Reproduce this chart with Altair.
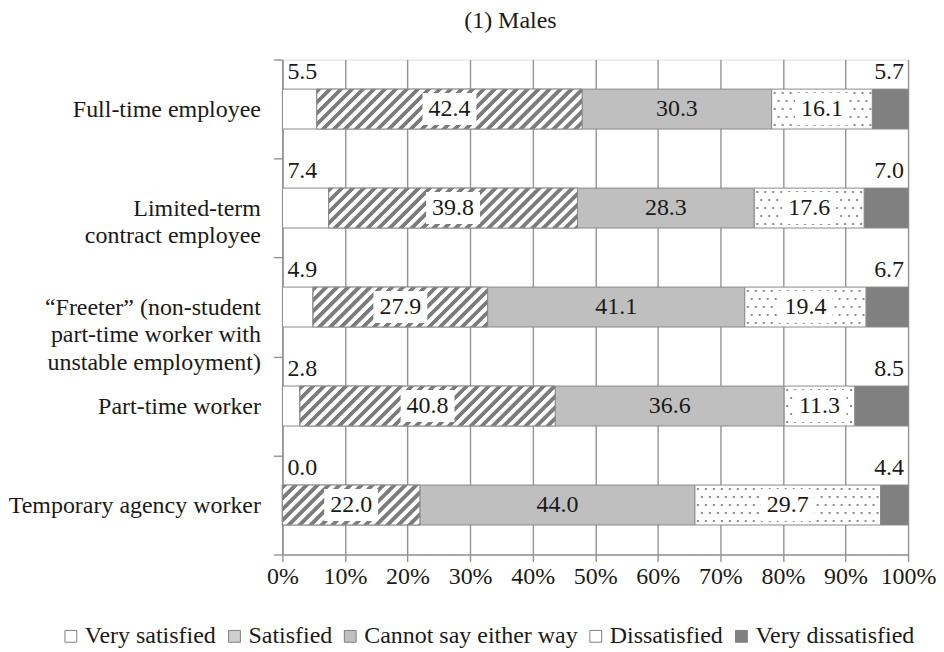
import altair as alt
import pandas as pd

# ---------------- data ----------------
categories = [
    "Full-time employee",
    "Limited-term\ncontract employee",
    "\u201cFreeter\u201d (non-student\npart-time worker with\nunstable employment)",
    "Part-time worker",
    "Temporary agency worker",
]
series = ["Very satisfied", "Satisfied", "Cannot say either way", "Dissatisfied", "Very dissatisfied"]
very_satisfied = [5.5, 7.4, 4.9, 2.8, 0.0]
satisfied = [42.4, 39.8, 27.9, 40.8, 22.0]
cannot_say = [30.3, 28.3, 41.1, 36.6, 44.0]
dissatisfied = [16.1, 17.6, 19.4, 11.3, 29.7]
very_dissatisfied = [5.7, 7.0, 6.7, 8.5, 4.4]
x_ticks = [0, 10, 20, 30, 40, 50, 60, 70, 80, 90, 100]
title_text = "(1) Males"

# ---------------- style ----------------
FONT = "Liberation Serif, Times New Roman, Times, serif"
FS = 24
TXT = "#1a1a1a"
LINE = "#939393"
PLOT_W = 627
PLOT_H = 496
BAR = 40
series_fill = ["#ffffff", "#cfcfcf", "#bfbfbf", "#ffffff", "#808080"]

rows = []
all_vals = [very_satisfied, satisfied, cannot_say, dissatisfied, very_dissatisfied]
for i, c in enumerate(categories):
    vals = [v[i] for v in all_vals]
    tot = sum(vals)
    acc = 0.0
    for s, v in zip(series, vals):
        start = acc / tot * 100
        acc += v
        end = acc / tot * 100
        rows.append(dict(cat=c, series=s, value=v, start=start, end=end,
                         mid=(start + end) / 2, label=f"{v:.1f}"))
df = pd.DataFrame(rows)


def hatch_gradient(width_px, height_px=BAR, period=11.0, dark=4.5, ramp=0.9,
                   dark_c="#7c7c7c", light_c="#ffffff"):
    L = width_px + height_px
    stops = []
    pos = 0.0
    while pos < L:
        pts = [(pos, dark_c), (pos + dark, dark_c), (pos + dark + ramp, light_c),
               (pos + period - ramp, light_c)]
        for p, col in pts:
            o = min(p / L, 1.0)
            stops.append({"offset": round(o, 5), "color": col})
        pos += period
    c = L / (width_px ** 2 + height_px ** 2)
    return {"gradient": "linear", "x1": 0, "y1": 0,
            "x2": round(c * width_px, 5), "y2": round(c * height_px, 5),
            "stops": stops}


x_axis = alt.Axis(values=x_ticks, labelExpr="datum.value + '%'", title=None,
                  grid=True, gridColor=LINE, gridWidth=1.4, labelOverlap=False,
                  labelFlush=False,
                  domainColor=LINE, domainWidth=1.4, tickColor=LINE, tickWidth=1.4,
                  tickSize=7, labelPadding=3, labelFont=FONT, labelFontSize=FS,
                  labelColor=TXT)
y_axis = alt.Axis(title=None, tickBand="extent", labelExpr="split(datum.label, '\\n')",
                  labelFont=FONT, labelFontSize=FS, labelColor=TXT, labelLineHeight=28,
                  labelLimit=400, labelOverlap=False,
                  tickSize=9, tickColor=LINE, tickWidth=1.4, domainColor=LINE,
                  domainWidth=1.4, labelPadding=13, grid=False)
x_scale = alt.Scale(domain=[0, 100], nice=False)
y_scale = alt.Scale(domain=categories, paddingInner=0, paddingOuter=0)


def X(field):
    return alt.X(f"{field}:Q", scale=x_scale, axis=x_axis)


def Y():
    return alt.Y("cat:N", scale=y_scale, axis=y_axis, sort=categories)


base = alt.Chart(df).mark_bar(size=BAR, stroke="#8a8a8a", strokeWidth=1).encode(
    x=X("start"), x2="end", y=Y(),
    fill=alt.Fill("series:N", scale=alt.Scale(domain=series, range=series_fill),
                  legend=alt.Legend(title=None, orient="none", direction="horizontal",
                                    legendX=-224, legendY=566, symbolType="square",
                                    symbolSize=140, symbolStrokeColor="#808080",
                                    symbolStrokeWidth=1, labelFont=FONT,
                                    labelFontSize=FS, labelColor=TXT,
                                    columnPadding=6, labelOffset=2,
                                    labelLimit=400)),
)

layers = [base]

sat = df[df.series == "Satisfied"]
for _, r in sat.iterrows():
    w = (r["end"] - r["start"]) / 100 * PLOT_W
    sub = sat[sat.cat == r["cat"]]
    layers.append(
        alt.Chart(sub).mark_bar(size=BAR, stroke="#8a8a8a", strokeWidth=1,
                                fill=hatch_gradient(w)).encode(
            x=X("start"), x2="end", y=Y())
    )

dis = df[df.series == "Dissatisfied"]
for k, off in enumerate([-16, -8, 0, 8, 16]):
    layers.append(
        alt.Chart(dis).mark_rule(yOffset=off, strokeDash=[2, 6],
                                 strokeDashOffset=(-2 if k % 2 == 0 else -6),
                                 strokeWidth=2, color="#8c8c8c").encode(
            x=X("start"), x2="end", y=Y())
    )

box_df = df[df.series.isin(["Satisfied", "Dissatisfied"])]
layers.append(
    alt.Chart(box_df).mark_point(
        shape="M-1,-0.5926L1,-0.5926L1,0.5926L-1,0.5926Z", size=54 * 54,
        filled=True, color="#ffffff", opacity=1, strokeWidth=0).encode(
        x=X("mid"), y=Y())
)

in_df = df[df.series.isin(["Satisfied", "Cannot say either way", "Dissatisfied"])]
layers.append(
    alt.Chart(in_df).mark_text(font=FONT, fontSize=FS, color=TXT, baseline="middle").encode(
        x=X("mid"), y=Y(), text="label:N")
)

vs_df = df[df.series == "Very satisfied"]
layers.append(
    alt.Chart(vs_df).mark_text(font=FONT, fontSize=FS, color=TXT, align="left",
                               baseline="middle", dx=5, dy=-37).encode(
        x=X("start"), y=Y(), text="label:N")
)
vd_df = df[df.series == "Very dissatisfied"]
layers.append(
    alt.Chart(vd_df).mark_text(font=FONT, fontSize=FS, color=TXT, align="right",
                               baseline="middle", dx=-4, dy=-37).encode(
        x=X("end"), y=Y(), text="label:N")
)

chart = alt.layer(*layers).properties(
    width=PLOT_W, height=PLOT_H,
    title=alt.TitleParams(title_text, font=FONT, fontSize=FS, fontWeight="normal",
                          color=TXT, anchor="middle", frame="group", dx=-85, offset=15),
    padding={"left": 0, "top": 0, "right": 0, "bottom": 0},
).configure_view(stroke=None).configure(background="#ffffff")

chart.save("out.html", embed_options={"renderer": "svg", "actions": False})
